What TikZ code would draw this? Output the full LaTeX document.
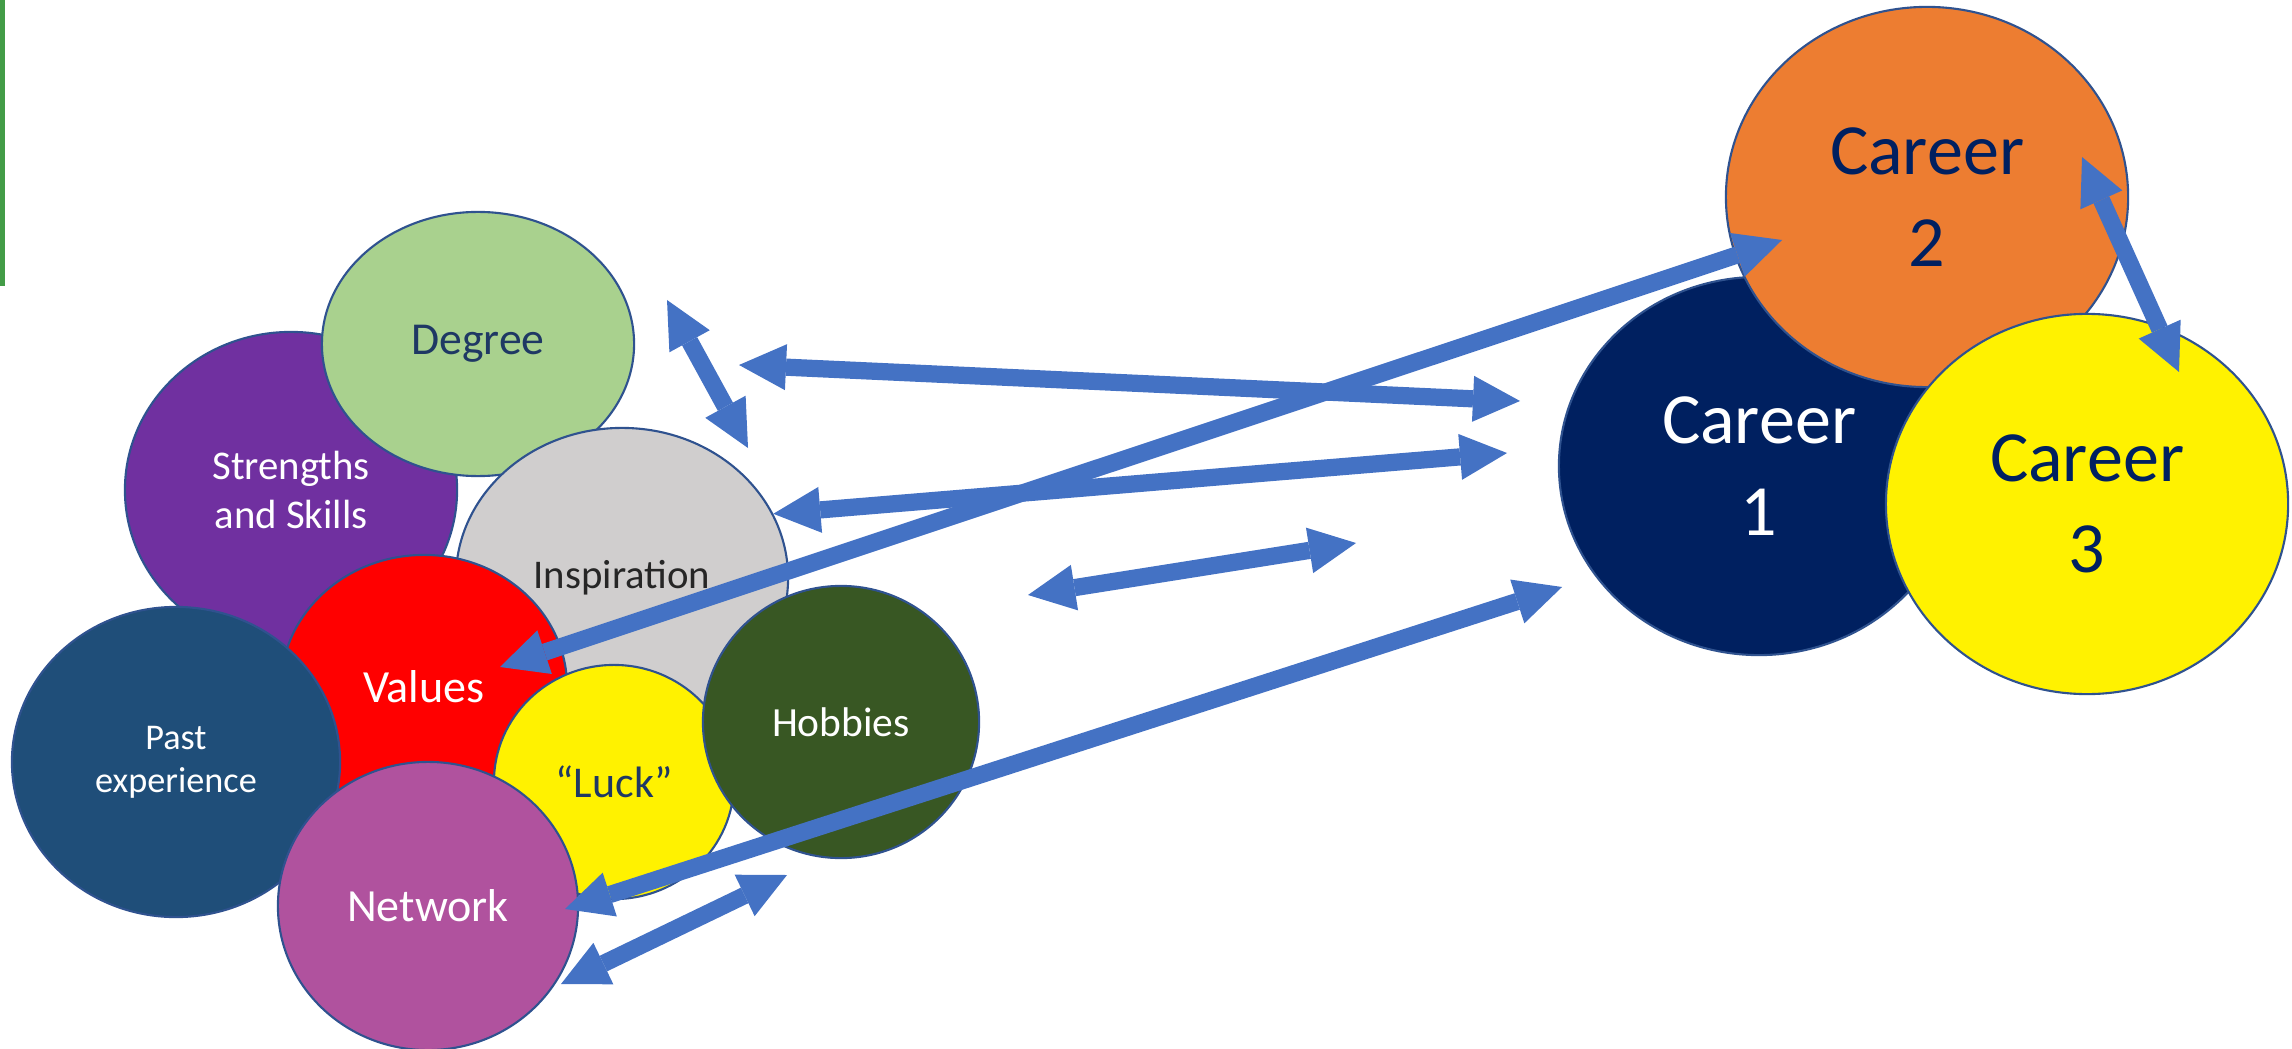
\documentclass[tikz,border=0pt]{standalone}
\usepackage{fontspec}
\setmainfont{Carlito}
\usetikzlibrary{shapes.geometric,arrows.meta}

\definecolor{barGreen}{RGB}{67,156,71}
\definecolor{rimBlue}{HTML}{2F528F}
\definecolor{arrowBlue}{HTML}{4472C4}
\definecolor{degreeGreen}{HTML}{A9D18E}
\definecolor{strengthPurple}{HTML}{7030A0}
\definecolor{inspGray}{HTML}{D0CECE}
\definecolor{pastBlue}{HTML}{1F4E79}
\definecolor{hobbyGreen}{HTML}{385723}
\definecolor{networkPink}{HTML}{B0529E}
\definecolor{careerNavy}{HTML}{002060}
\definecolor{careerOrange}{HTML}{ED7D31}
\definecolor{textNavy}{HTML}{1F3864}
\definecolor{textGray}{HTML}{262626}

\tikzset{
	bubble/.style n args={3}{ellipse, draw=rimBlue, line width=0.6pt, fill=#1,
		minimum width=#2, minimum height=#3, inner sep=0pt, align=center},
	twoway/.style={arrowBlue, line width=4.9pt,
		{Triangle[length=0.47cm,width=0.46cm,line width=0pt]}-{Triangle[length=0.47cm,width=0.46cm,line width=0pt]}},
}

\begin{document}
\begin{tikzpicture}[x=0.01cm, y=-0.01cm]
	\useasboundingbox (0,0) rectangle (2292,1049);
	
	% green bar on the left edge
	\fill[barGreen] (0,0) rectangle (5,286);
	
	% Draw the left bubbles (back to front)
	\node[bubble={strengthPurple}{3.32cm}{3.16cm}, text=white, font=\fontsize{11.6}{14.2}\selectfont] (strengths) at (291,490) {Strengths\\and Skills};
	\node[bubble={degreeGreen}{3.12cm}{2.64cm}, text=textNavy, font=\fontsize{13}{16}\selectfont] (degree) at (478,344) {Degree};
	\node[bubble={inspGray}{3.32cm}{3.00cm}, text=textGray, font=\fontsize{11.6}{14}\selectfont] (insp) at (622,578) {Inspiration};
	\node[bubble={red}{2.86cm}{2.64cm}, text=white, font=\fontsize{13.1}{16}\selectfont] (values) at (424,687) {Values};
	\node[bubble={pastBlue}{3.28cm}{3.10cm}, text=white, font=\fontsize{10.3}{12.3}\selectfont] (past) at (176,762) {Past\\experience};
	\node[bubble={yellow}{2.40cm}{2.34cm}, text=textNavy, font=\fontsize{12.5}{15}\selectfont] (luck) at (614,782) {“Luck”};
	\node[bubble={hobbyGreen}{2.76cm}{2.72cm}, text=white, font=\fontsize{11.8}{14}\selectfont] (hobbies) at (841,722) {Hobbies};
	\node[bubble={networkPink}{3.00cm}{2.88cm}, text=white, font=\fontsize{13.1}{16}\selectfont] (network) at (428,906) {Network};
	
	% Draw the career bubbles
	\node[bubble={careerNavy}{4.00cm}{3.78cm}, text=white, font=\fontsize{20.5}{26}\selectfont] (career1) at (1759,466) {Career\\1};
	\node[bubble={careerOrange}{4.02cm}{3.80cm}, text=careerNavy, font=\fontsize{20.5}{26}\selectfont] (career2) at (1927,197) {Career\\2};
	\node[bubble={yellow}{4.02cm}{3.80cm}, text=careerNavy, font=\fontsize{20.5}{26}\selectfont] (career3) at (2087,504) {Career\\3};
	
	% arrow ends
	\coordinate (degTip) at (667,300);
	\coordinate (inspTip) at (748,448);
	\coordinate (topL) at (739,365);
	\coordinate (topR) at (1520,401);
	\coordinate (midR) at (1507,453);
	\coordinate (valTip) at (500,667);
	\coordinate (c2Tip) at (1782,240);
	\coordinate (shortL) at (1028,595);
	\coordinate (shortR) at (1356,543);
	\coordinate (netTip) at (565,909);
	\coordinate (c1Tip) at (1562,587);
	\coordinate (lowL) at (561,984);
	\coordinate (lowR) at (787,875);
	\coordinate (c2Low) at (2082,157);
	\coordinate (c3Top) at (2179,372);
	
	% Draw the arrows
	\foreach \a/\b in {degTip/inspTip, topL/topR, insp.23/midR, valTip/c2Tip,
		shortL/shortR, netTip/c1Tip, lowL/lowR, c2Low/c3Top} {
		\draw[twoway] (\a) -- (\b);
	}
\end{tikzpicture}
\end{document}
